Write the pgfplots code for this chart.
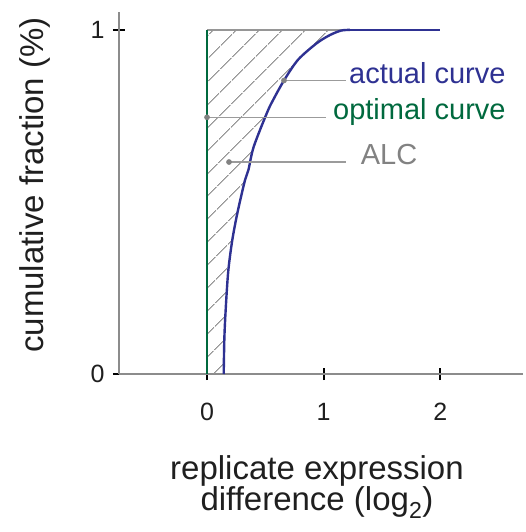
\documentclass[border=0pt]{standalone}
\usepackage{fontspec}
\setmainfont{Liberation Sans}
\usepackage{pgfplots}
\pgfplotsset{compat=1.18}
\usetikzlibrary{patterns.meta}
\definecolor{cblue}{RGB}{46,49,146}
\definecolor{cgreen}{RGB}{0,105,62}
\definecolor{cgray}{RGB}{140,140,140}
\definecolor{hgray}{RGB}{150,150,150}
\definecolor{tgray}{RGB}{130,130,130}
\newcommand\annfont{\fontsize{29}{34}\selectfont}
\newcommand\ticfont{\fontsize{25}{30}\selectfont}
\newcommand\labfont{\fontsize{33}{35}\selectfont}
\begin{document}
\begin{tikzpicture}
\useasboundingbox (-119pt,-158pt) rectangle (407pt,374pt);
\begin{axis}[
  at={(0,0)}, anchor=south west,
  width=404pt, height=362pt, scale only axis,
  xmin=-0.755, xmax=2.71, ymin=0, ymax=1.052,
  axis x line=bottom, axis y line=left,
  axis line style={draw=cgray, line width=2.2pt, -},
  xtick={0,1,2}, ytick={0,1},
  xticklabels={{\ticfont 0},{\ticfont 1},{\ticfont 2}},
  yticklabels={{\ticfont 0},{\ticfont 1}},
  tick align=center, major tick length=12pt,
  tick style={black, line width=2pt},
  tick label style={text=black!88},
  xticklabel style={yshift=-20pt},
  yticklabel style={xshift=-5pt},
  clip=false,
  xlabel={\labfont replicate expression\\\labfont difference (log\textsubscript{2})},
  xlabel style={at={(axis description cs:0.49,-0.224)}, anchor=north, align=center,
    inner sep=0pt, text=black!88},
  ylabel={\labfont cumulative fraction (\%)},
  ylabel style={at={(axis description cs:-0.208,0.522)}, anchor=center, text=black!88},
]
% hatched area (ALC)
\addplot[draw=none, pattern={Lines[angle=45,distance=17pt,line width=1.1pt]}, pattern color=hgray]
  coordinates {(0,0) (0.143,0) (0.149,0.108) (0.163,0.205) (0.183,0.302) (0.217,0.39)
  (0.263,0.472) (0.326,0.564) (0.355,0.593) (0.40,0.66) (0.514,0.759) (0.568,0.797)
  (0.66,0.853) (0.78,0.913) (0.94,0.961) (1.054,0.985) (1.15,0.998) (1.225,1) (0,1) (0,0)};
% top border of area
\addplot[hgray, line width=1.5pt] coordinates {(0,1) (1.2,1)};
% optimal curve
\addplot[cgreen, line width=2.4pt] coordinates {(0,0) (0,1)};
% actual curve
\addplot[cblue, line width=2.4pt, smooth, tension=0.5] coordinates {(0.143,0) (0.149,0.108)
  (0.163,0.205) (0.183,0.302) (0.217,0.39) (0.263,0.472) (0.326,0.564) (0.355,0.593)
  (0.40,0.66) (0.514,0.759) (0.568,0.797) (0.66,0.853) (0.78,0.913) (0.94,0.961)
  (1.054,0.985) (1.15,0.998) (1.225,1)};
\addplot[cblue, line width=2.4pt] coordinates {(1.225,1) (2,1)};
% annotation leaders
\addplot[tgray!80, line width=1.3pt] coordinates {(0.66,0.853) (1.191,0.853)};
\addplot[tgray!80, line width=1.3pt] coordinates {(0,0.746) (1.02,0.746)};
\addplot[tgray!80, line width=1.3pt] coordinates {(0.1885,0.616) (1.19,0.616)};
\addplot[only marks, mark=*, mark size=2.6pt, color=tgray] coordinates {(0.66,0.853) (0,0.746) (0.1885,0.616)};
\node[anchor=mid west, inner sep=0pt, text=cblue] at (axis cs:1.217,0.853) {\annfont actual curve};
\node[anchor=mid west, inner sep=0pt, text=cgreen] at (axis cs:1.08,0.746) {\annfont optimal curve};
\node[anchor=mid west, inner sep=0pt, text=tgray] at (axis cs:1.317,0.616) {\annfont ALC};
\end{axis}
\end{tikzpicture}
\end{document}
